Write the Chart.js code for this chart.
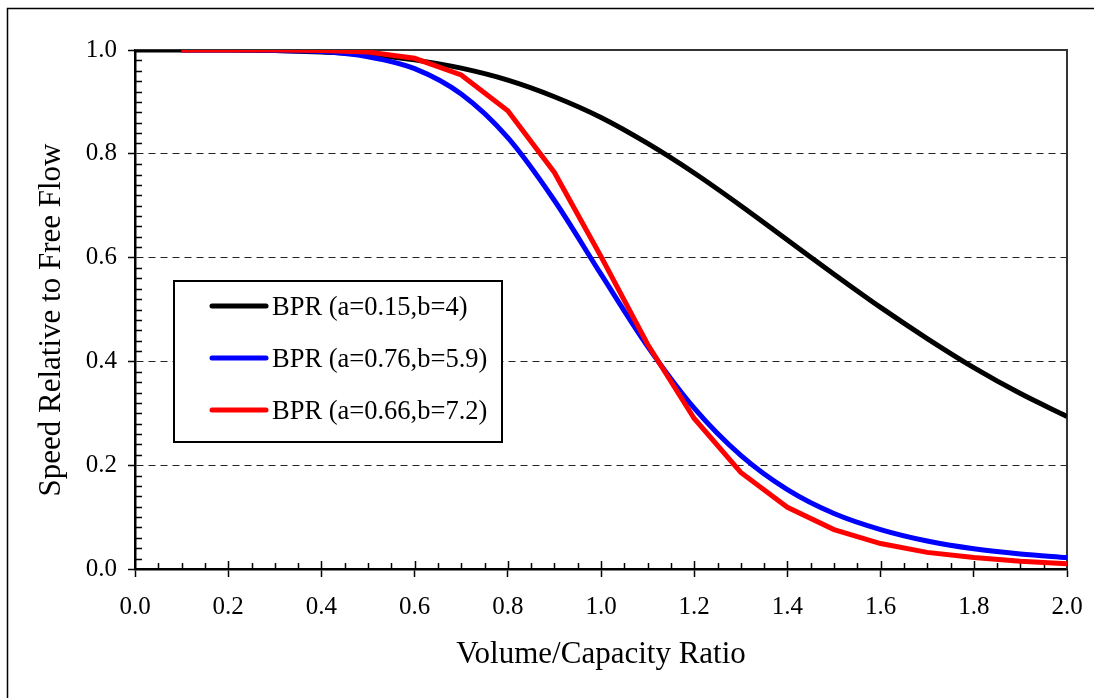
<!DOCTYPE html>
<html>
<head>
<meta charset="utf-8">
<script src="https://cdn.jsdelivr.net/npm/chart.js@4.4.0/dist/chart.umd.min.js"></script>
<style>
  html, body { margin: 0; padding: 0; background: #fff; }
  #wrap { width: 1094px; height: 698px; position: relative; }
</style>
</head>
<body>
<div id="wrap"><canvas id="bprChart" width="1094" height="698"></canvas></div>
<script>
// volume / capacity ratio
const vcRatio = [0.0, 0.1, 0.2, 0.3, 0.4, 0.5, 0.6, 0.7, 0.8, 0.9, 1.0,
                 1.1, 1.2, 1.3, 1.4, 1.5, 1.6, 1.7, 1.8, 1.9, 2.0];
// speed relative to free flow
const bpr015 = [1.000, 1.000, 1.000, 0.999, 0.996, 0.991, 0.981, 0.965, 0.942, 0.910, 0.870,
                0.820, 0.763, 0.700, 0.634, 0.568, 0.504, 0.444, 0.388, 0.338, 0.294];
const bpr076 = [null, 1.000, 1.000, 0.999, 0.997, 0.987, 0.964, 0.915, 0.831, 0.710, 0.568,
                0.429, 0.310, 0.219, 0.153, 0.107, 0.076, 0.054, 0.039, 0.029, 0.022];
const bpr066 = [null, 1.000, 1.000, 1.000, 0.999, 0.996, 0.984, 0.952, 0.883, 0.764, 0.602,
                0.433, 0.290, 0.186, 0.119, 0.076, 0.049, 0.032, 0.022, 0.015, 0.010];
const seriesLabels = ['BPR (a=0.15,b=4)', 'BPR (a=0.76,b=5.9)', 'BPR (a=0.66,b=7.2)'];
const xTicks = [0.0, 0.2, 0.4, 0.6, 0.8, 1.0, 1.2, 1.4, 1.6, 1.8, 2.0];
const yTicks = [0.0, 0.2, 0.4, 0.6, 0.8, 1.0];
const yTitle = 'Speed Relative to Free Flow';

const FONT = "'Liberation Serif', 'Times New Roman', serif";

function pts(ys) {
    let out = [];
    for (let i = 0; i < vcRatio.length; i++) {
        if (ys[i] !== null) out.push({ x: vcRatio[i], y: ys[i] });
    }
    return out;
}

// frame, inner minor ticks, outer border, y title and the boxed legend
const extras = {
    id: 'extras',
    beforeDraw(chart) {
        const ctx = chart.ctx;
        ctx.save();
        ctx.strokeStyle = '#000';
        ctx.lineWidth = 1.5;
        ctx.beginPath();
        ctx.moveTo(7.5, 698);
        ctx.lineTo(7.5, 8.5);
        ctx.lineTo(1094, 8.5);
        ctx.stroke();
        // y axis title, sitting a little below the plot centre as in the original
        ctx.translate(52, 320);
        ctx.rotate(-Math.PI / 2);
        ctx.font = '31px ' + FONT;
        ctx.textAlign = 'center';
        ctx.textBaseline = 'middle';
        ctx.fillStyle = '#000';
        ctx.fillText(yTitle, 0, 0);
        ctx.restore();
    },
    beforeDatasetsDraw(chart) {
        const ctx = chart.ctx;
        const a = chart.chartArea;
        const xs = chart.scales.x, ys = chart.scales.y;
        ctx.save();
        // top and right frame
        ctx.strokeStyle = '#333';
        ctx.lineWidth = 2;
        ctx.beginPath();
        ctx.moveTo(a.left, a.top);
        ctx.lineTo(a.right, a.top);
        ctx.lineTo(a.right, a.bottom);
        ctx.stroke();
        // minor ticks pointing inward
        ctx.strokeStyle = '#000';
        ctx.lineWidth = 1.5;
        ctx.beginPath();
        for (let i = 1; i < 40; i++) {
            const px = Math.round(xs.getPixelForValue(i * 0.05)) + 0.5;
            const len = (i % 4 === 0) ? 8 : 6;
            ctx.moveTo(px, a.bottom);
            ctx.lineTo(px, a.bottom - len);
        }
        for (let i = 1; i < 50; i++) {
            if (i % 10 === 0) continue;
            const py = Math.round(ys.getPixelForValue(i * 0.02)) + 0.5;
            ctx.moveTo(a.left, py);
            ctx.lineTo(a.left + 7, py);
        }
        ctx.stroke();
        ctx.restore();
    },
    afterDraw(chart) {
        const ctx = chart.ctx;
        const bx = 174, by = 281, bw = 328, bh = 161;
        ctx.save();
        ctx.fillStyle = '#fff';
        ctx.fillRect(bx, by, bw, bh);
        ctx.strokeStyle = '#000';
        ctx.lineWidth = 2;
        ctx.strokeRect(bx, by, bw, bh);
        ctx.font = '26.5px ' + FONT;
        ctx.textBaseline = 'middle';
        ctx.fillStyle = '#000';
        const rows = [306, 358, 410];
        chart.data.datasets.forEach(function(ds, i) {
            ctx.strokeStyle = ds.borderColor;
            ctx.lineWidth = 5;
            ctx.lineCap = 'round';
            ctx.beginPath();
            ctx.moveTo(212, rows[i]);
            ctx.lineTo(266, rows[i]);
            ctx.stroke();
            ctx.fillText(ds.label, 272, rows[i] + 2.5);
        });
        ctx.restore();
    }
};

let ctx = document.getElementById('bprChart').getContext('2d');
let chart = new Chart(ctx, {
    type: 'line',
    data: {
        datasets: [
            { label: seriesLabels[0], data: pts(bpr015), borderColor: '#000000', borderWidth: 5,
              cubicInterpolationMode: 'monotone', pointRadius: 0, order: 3 },
            { label: seriesLabels[1], data: pts(bpr076), borderColor: '#0000ff', borderWidth: 5,
              cubicInterpolationMode: 'monotone', pointRadius: 0, order: 2 },
            { label: seriesLabels[2], data: pts(bpr066), borderColor: '#ff0000', borderWidth: 5,
              tension: 0, pointRadius: 0, order: 1 }
        ]
    },
    options: {
        responsive: false,
        animation: false,
        devicePixelRatio: 1,
        layout: { padding: { left: 0, top: 50, right: 27, bottom: 0 } },
        plugins: { legend: { display: false }, tooltip: { enabled: false } },
        scales: {
            x: {
                type: 'linear',
                min: 0, max: 2,
                afterFit: function(s) { s.height = 129; s.paddingLeft = 0; s.paddingRight = 0; },
                afterBuildTicks: function(s) { s.ticks = xTicks.map(v => ({ value: v })); },
                ticks: {
                    callback: v => Number(v).toFixed(1),
                    font: { family: FONT, size: 25 },
                    color: '#000',
                    padding: 15,
                    maxRotation: 0
                },
                grid: { drawOnChartArea: false, tickLength: 8, tickColor: '#000', tickWidth: 1.5 },
                border: { color: '#000', width: 2.5 },
                title: {
                    display: true,
                    text: 'Volume/Capacity Ratio',
                    font: { family: FONT, size: 31 },
                    color: '#000',
                    padding: { top: 0, bottom: 25 }
                }
            },
            y: {
                min: 0, max: 1,
                afterFit: function(s) { s.width = 135; s.paddingTop = 0; s.paddingBottom = 0; },
                afterBuildTicks: function(s) { s.ticks = yTicks.map(v => ({ value: v })); },
                ticks: {
                    callback: v => Number(v).toFixed(1),
                    font: { family: FONT, size: 25 },
                    color: '#000',
                    padding: 11
                },
                grid: {
                    color: c => (c.tick && c.tick.value > 0.01 && c.tick.value < 0.99) ? '#222' : 'rgba(0,0,0,0)',
                    lineWidth: 1,
                    tickLength: 7,
                    tickColor: '#000',
                    tickWidth: 1.5
                },
                border: { color: '#000', width: 2.5, dash: [7, 5] }
            }
        }
    },
    plugins: [extras]
});
</script>
</body>
</html>
